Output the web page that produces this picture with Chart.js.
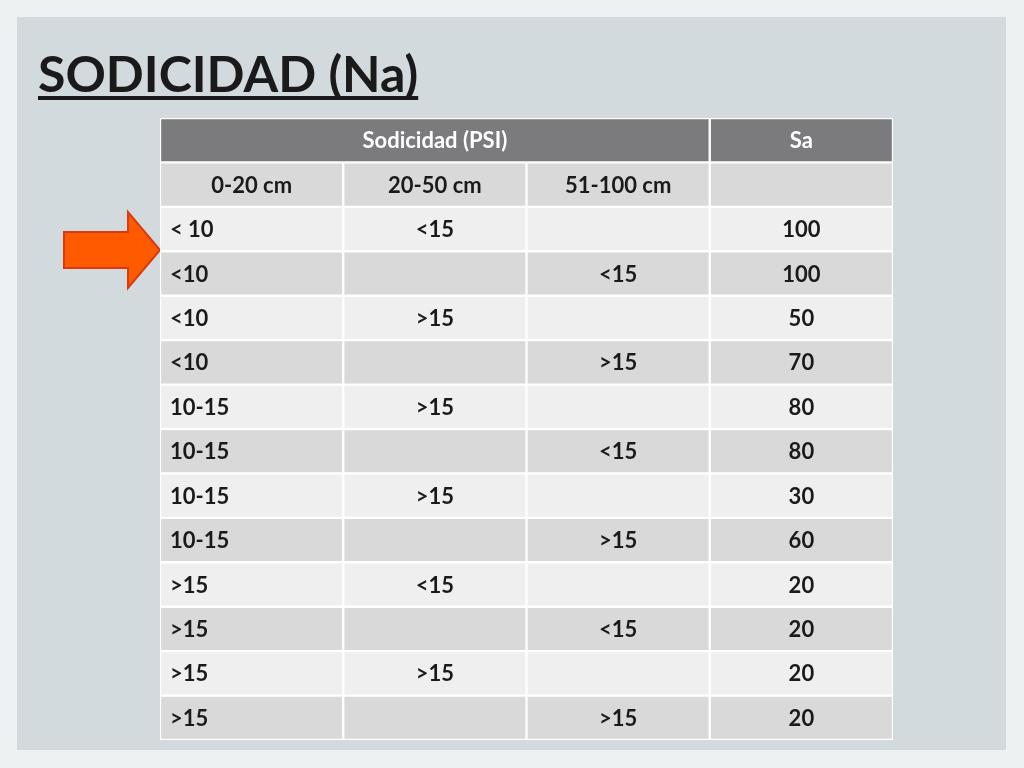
<!DOCTYPE html>
<html><head><meta charset="utf-8">
<script src="https://cdn.jsdelivr.net/npm/chart.js@4"></script>
<style>
html,body{margin:0;padding:0;background:#eef1f2;}
#wrap{position:absolute;left:17px;top:17px;width:989px;height:733px;background:#d3dadd;}
canvas{position:absolute;left:0;top:0;}
</style></head><body>
<div id="wrap"></div>
<canvas id="c" width="1024" height="768"></canvas>
<script>
const title = "SODICIDAD (Na)";
const headerTop = ["Sodicidad (PSI)", "Sa"];
const headerSub = ["0-20 cm", "20-50 cm", "51-100 cm", ""];
const depth0_20 = ["< 10","<10","<10","<10","10-15","10-15","10-15","10-15",">15",">15",">15",">15"];
const depth20_50 = ["<15","",">15","",">15","",">15","","<15","",">15",""];
const depth51_100 = ["","<15","",">15","","<15","",">15","","<15","",">15"];
const saValues = [100,100,50,70,80,80,30,60,20,20,20,20];

const nRows = 2 + saValues.length;
const rowLabels = Array.from({length:nRows},(_,i)=>"r"+i);
function rowColor(r){ if(r===0) return "#7b7b7d"; if(r===1) return "#d9d9d9"; return ((r-2)%2===0)?"#efefef":"#d9d9d9"; }
function colData(c){ return rowLabels.map((_,r)=> r===0 ? (c===0?[0,3]:c===3?[3,4]:null) : [c,c+1]); }
const datasets=[0,1,2,3].map(c=>({data:colData(c),backgroundColor:ctx=>rowColor(ctx.dataIndex),borderColor:"#ffffff",borderWidth:1.5,borderSkipped:false,barPercentage:1,categoryPercentage:1}));

const deco={id:"deco",
 beforeDraw(ch){const g=ch.ctx;g.save();
  g.fillStyle="#1a1a1a";g.font="bold 50px Lato, 'Open Sans', sans-serif";g.textBaseline="alphabetic";
  g.fillText(title,38,92);const w=g.measureText(title).width;g.fillRect(38,96,w,4);
  // arrow
  g.beginPath();g.moveTo(64,232);g.lineTo(128,232);g.lineTo(128,212);g.lineTo(160,250);g.lineTo(128,288);g.lineTo(128,268);g.lineTo(64,268);g.closePath();
  g.fillStyle="#ff5a00";g.fill();g.strokeStyle="#d93a10";g.lineWidth=2;g.stroke();
  g.restore();},
 afterDatasetsDraw(ch){const g=ch.ctx,x=ch.scales.x,y=ch.scales.y;g.save();
  g.font="bold 22px Lato, 'Open Sans', sans-serif";g.textBaseline="middle";
  const put=(t,xx,r,al,col)=>{g.textAlign=al;g.fillStyle=col;g.fillText(t,xx,y.getPixelForValue(r)+1);};
  put(headerTop[0],x.getPixelForValue(1.5),0,"center","#ffffff");
  put(headerTop[1],x.getPixelForValue(3.5),0,"center","#ffffff");
  headerSub.forEach((t,c)=>put(t,x.getPixelForValue(c+0.5),1,"center","#1a1a1a"));
  saValues.forEach((v,i)=>{const r=i+2;
   put(depth0_20[i],x.getPixelForValue(0)+10,r,"left","#1a1a1a");
   put(depth20_50[i],x.getPixelForValue(1.5),r,"center","#1a1a1a");
   put(depth51_100[i],x.getPixelForValue(2.5),r,"center","#1a1a1a");
   put(String(v),x.getPixelForValue(3.5),r,"center","#1a1a1a");});
  g.restore();}};

new Chart(document.getElementById("c"),{type:"bar",
 data:{labels:rowLabels,datasets},
 options:{indexAxis:"y",responsive:false,animation:false,
  layout:{padding:{left:160,right:131,top:118,bottom:28}},
  scales:{x:{type:"linear",min:0,max:4,display:false,stacked:false},y:{display:false,stacked:true}},
  plugins:{legend:{display:false},tooltip:{enabled:false}}},
 plugins:[deco]});
</script></body></html>
